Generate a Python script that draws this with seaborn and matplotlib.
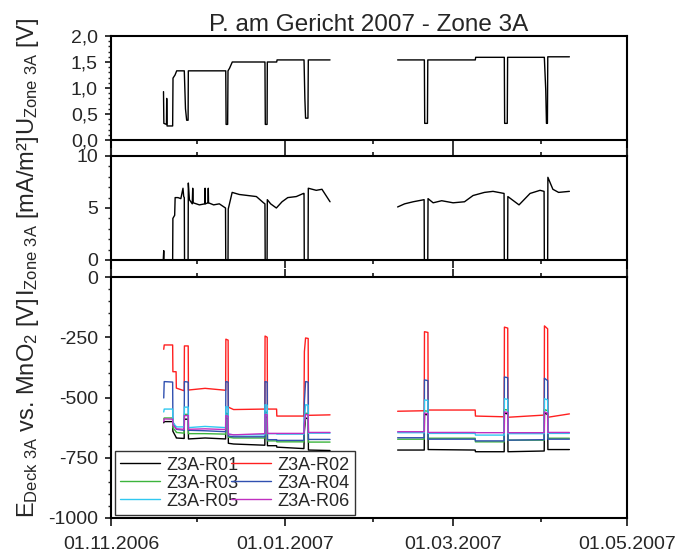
import numpy as np
import pandas as pd
import seaborn as sns
import matplotlib.pyplot as plt
import matplotlib.dates as mdates
from matplotlib.lines import Line2D
from matplotlib.ticker import FixedLocator, FuncFormatter

# --- data ---
u_time = [
    "2006-11-19 10:00", "2006-11-19 13:00", "2006-11-20 11:00", "2006-11-20 13:00",
    "2006-11-20 16:00", "2006-11-22 15:00", "2006-11-22 18:00", "2006-11-23 11:00",
    "2006-11-24 01:00", "2006-11-26 17:00", "2006-11-27 03:00", "2006-11-27 13:00",
    "2006-11-28 01:00", "2006-11-28 03:00", "2006-12-11 06:00", "2006-12-11 09:00",
    "2006-12-11 22:00", "2006-12-12 01:00", "2006-12-12 14:00", "2006-12-13 13:00",
    "2006-12-25 00:00", "2006-12-25 03:00", "2006-12-25 18:00", "2006-12-25 20:00",
    "2006-12-29 03:00", "2006-12-29 06:00", "2007-01-07 17:00", "2007-01-08 00:00",
    "2007-01-08 06:00", "2007-01-09 02:00", "2007-01-09 05:00", "2007-01-16 20:00",
    "2007-02-09 13:00", "2007-02-18 22:00", "2007-02-19 01:00", "2007-02-20 00:00",
    "2007-02-20 03:00", "2007-03-08 19:00", "2007-03-08 22:00", "2007-03-18 23:00",
    "2007-03-19 02:00", "2007-03-20 00:00", "2007-03-20 03:00", "2007-04-02 00:00",
    "2007-04-02 12:00", "2007-04-02 18:00", "2007-04-03 02:00", "2007-04-03 05:00",
    "2007-04-10 19:00",
]
u_value = [
    0.93, 0.32, 0.30, 0.80, 0.27, 0.27, 1.19, 1.25, 1.33, 1.33, 0.60, 0.38,
    0.38, 1.33, 1.33, 0.30, 0.30, 1.33, 1.38, 1.50, 1.50, 0.30, 0.30, 1.50,
    1.50, 1.54, 1.54, 0.80, 0.42, 0.42, 1.54, 1.54,
    1.54, 1.54, 0.32, 0.32, 1.54, 1.54, 1.59, 1.59, 0.32, 0.32, 1.59, 1.59,
    0.96, 0.32, 0.32, 1.60, 1.60,
]

i_time = [
    "2006-11-19 08:00", "2006-11-19 12:00", "2006-11-19 14:00", "2006-11-22 15:00",
    "2006-11-22 17:00", "2006-11-23 08:00", "2006-11-23 12:00", "2006-11-24 12:00",
    "2006-11-25 12:00", "2006-11-26 06:00", "2006-11-26 12:00", "2006-11-26 17:00",
    "2006-11-26 19:00", "2006-11-28 01:00", "2006-11-28 03:00", "2006-11-28 12:00",
    "2006-11-29 12:00", "2006-11-29 16:00", "2006-11-29 20:00", "2006-12-02 00:00",
    "2006-12-03 22:00", "2006-12-04 00:00", "2006-12-04 02:00", "2006-12-05 01:00",
    "2006-12-05 03:00", "2006-12-05 05:00", "2006-12-07 00:00", "2006-12-09 00:00",
    "2006-12-11 04:00", "2006-12-11 06:00", "2006-12-12 01:00", "2006-12-12 03:00",
    "2006-12-13 12:00", "2006-12-16 00:00", "2006-12-19 00:00", "2006-12-22 00:00",
    "2006-12-24 12:00", "2006-12-25 00:00", "2006-12-25 02:00", "2006-12-25 18:00",
    "2006-12-25 20:00", "2006-12-27 00:00", "2006-12-29 00:00", "2006-12-31 00:00",
    "2007-01-02 00:00", "2007-01-05 00:00", "2007-01-07 12:00", "2007-01-07 17:00",
    "2007-01-07 19:00", "2007-01-09 03:00", "2007-01-09 05:00", "2007-01-12 00:00",
    "2007-01-14 00:00", "2007-01-16 20:00",
    "2007-02-09 13:00", "2007-02-12 00:00", "2007-02-15 00:00", "2007-02-18 20:00",
    "2007-02-18 22:00", "2007-02-20 03:00", "2007-02-20 05:00", "2007-02-22 00:00",
    "2007-02-25 00:00", "2007-03-01 00:00", "2007-03-05 00:00", "2007-03-08 00:00",
    "2007-03-12 00:00", "2007-03-15 00:00", "2007-03-18 21:00", "2007-03-18 23:00",
    "2007-03-20 03:00", "2007-03-20 05:00", "2007-03-24 03:00", "2007-03-28 00:00",
    "2007-03-31 12:00", "2007-04-01 22:00", "2007-04-02 00:00", "2007-04-03 04:00",
    "2007-04-03 06:00", "2007-04-05 00:00", "2007-04-07 00:00", "2007-04-10 19:00",
]
i_value = [
    0.0, 0.9, 0.0, 0.0, 4.0, 4.3, 6.0, 6.0, 5.9, 6.9, 6.1, 6.0,
    0.0, 0.0, 7.4, 5.8, 5.4, 6.9, 5.5, 5.3, 5.4, 6.9, 5.4, 5.5,
    6.9, 5.5, 5.3, 5.4, 5.0, 0.0, 0.0, 4.9, 6.5, 6.3, 6.2, 6.1,
    5.5, 5.4, 0.0, 0.0, 5.8, 5.4, 5.0, 5.6, 6.0, 6.1, 6.4, 6.4,
    0.0, 0.0, 6.9, 6.7, 6.8, 5.6,
    5.1, 5.4, 5.6, 5.8, 0.0, 0.0, 5.9, 5.5, 5.7, 5.5, 5.6, 6.2,
    6.5, 6.6, 6.4, 0.0, 0.0, 6.1, 5.3, 6.4, 6.7, 6.6, 0.0, 0.0,
    7.95, 6.8, 6.5, 6.6,
]

e_time = [
    "2006-11-19 12:00", "2006-11-19 16:00", "2006-11-22 15:00", "2006-11-22 17:00",
    "2006-11-23 20:00", "2006-11-23 22:00", "2006-11-26 16:00", "2006-11-26 18:00",
    "2006-11-28 02:00", "2006-11-28 04:00", "2006-12-04 00:00", "2006-12-11 05:00",
    "2006-12-11 07:00", "2006-12-12 02:00", "2006-12-12 04:00", "2006-12-14 00:00",
    "2006-12-24 23:00", "2006-12-25 01:00", "2006-12-25 19:00", "2006-12-25 21:00",
    "2006-12-29 02:00", "2006-12-29 04:00", "2007-01-07 16:00", "2007-01-07 20:00",
    "2007-01-08 06:00", "2007-01-09 04:00", "2007-01-09 06:00", "2007-01-16 20:00",
    "2007-02-09 13:00", "2007-02-18 21:00", "2007-02-18 23:00", "2007-02-20 04:00",
    "2007-02-20 06:00", "2007-03-08 18:00", "2007-03-08 20:00", "2007-03-18 22:00",
    "2007-03-19 00:00", "2007-03-20 04:00", "2007-03-20 06:00", "2007-04-01 23:00",
    "2007-04-02 01:00", "2007-04-03 04:00", "2007-04-03 06:00", "2007-04-10 19:00",
]
e_r01 = [-605, -600, -600, -640, -665, -668, -670, -590, -590, -672, -668, -672,
         -585, -588, -690, -693, -698, -580, -582, -700, -700, -706, -712, -640,
         -585, -588, -718, -720,
         -718, -718, -570, -572, -716, -718, -725, -725, -565, -568, -725, -722,
         -565, -570, -716, -716]
e_r02 = [-300, -282, -282, -393, -393, -461, -472, -286, -286, -469, -462, -470,
         -258, -262, -540, -550, -548, -245, -250, -548, -548, -577, -577, -310,
         -253, -255, -574, -572,
         -557, -555, -227, -230, -552, -552, -577, -580, -208, -212, -582, -573,
         -203, -215, -582, -568]
e_r03 = [-590, -585, -585, -625, -642, -645, -648, -570, -570, -650, -650, -652,
         -565, -568, -665, -668, -668, -560, -562, -680, -680, -684, -684, -620,
         -565, -567, -685, -685,
         -673, -673, -555, -557, -669, -669, -684, -684, -550, -552, -677, -677,
         -550, -555, -669, -669]
e_r04 = [-502, -434, -436, -600, -630, -632, -636, -434, -436, -636, -638, -642,
         -434, -436, -660, -663, -663, -434, -436, -675, -675, -678, -678, -520,
         -434, -436, -674, -674,
         -667, -667, -427, -430, -673, -673, -680, -680, -415, -418, -677, -675,
         -420, -430, -673, -673]
e_r05 = [-560, -548, -548, -605, -620, -622, -622, -540, -540, -625, -620, -625,
         -538, -540, -652, -655, -655, -530, -532, -650, -650, -652, -652, -600,
         -530, -532, -648, -648,
         -646, -646, -510, -512, -649, -649, -656, -656, -505, -508, -650, -650,
         -505, -510, -649, -649]
e_r06 = [-600, -589, -590, -615, -628, -630, -632, -575, -575, -632, -630, -633,
         -575, -578, -652, -655, -650, -570, -572, -649, -649, -649, -649, -610,
         -570, -572, -645, -645,
         -642, -642, -565, -567, -645, -645, -646, -646, -560, -562, -646, -646,
         -560, -565, -645, -645]

probes = ["Z3A-R01", "Z3A-R02", "Z3A-R03", "Z3A-R04", "Z3A-R05", "Z3A-R06"]
colors = ["black", "#ff2020", "#3cb43c", "#3050b0", "#30c8f0", "#c030c0"]

GAP = pd.Timestamp("2007-02-01")


def frame(times, values):
    df = pd.DataFrame({"time": pd.to_datetime(times), "value": values})
    df["seg"] = (df["time"] > GAP).astype(int)
    return df


u_df = frame(u_time, u_value)
i_df = frame(i_time, i_value)
e_df = pd.concat(
    [frame(e_time, v).assign(probe=p)
     for p, v in zip(probes, [e_r01, e_r02, e_r03, e_r04, e_r05, e_r06])],
    ignore_index=True,
)

# --- style ---
sns.set_style("ticks")
plt.rcParams["font.family"] = ["Liberation Sans", "DejaVu Sans"]
plt.rcParams["mathtext.default"] = "regular"
plt.rcParams["axes.unicode_minus"] = False
plt.rcParams["axes.edgecolor"] = "black"
plt.rcParams["axes.linewidth"] = 1.5

W, H = 682, 556
fig = plt.figure(figsize=(W / 100, H / 100), dpi=100)


def box(top, bottom):
    return [111 / W, 1 - bottom / H, 516 / W, (bottom - top) / H]


ax_u = fig.add_axes(box(36, 156))
ax_i = fig.add_axes(box(156, 277))
ax_e = fig.add_axes(box(277, 518))

sns.lineplot(data=u_df, x="time", y="value", units="seg", estimator=None,
             sort=False, color="black", lw=1.0, ax=ax_u)
sns.lineplot(data=i_df, x="time", y="value", units="seg", estimator=None,
             sort=False, color="black", lw=1.0, ax=ax_i)
sns.lineplot(data=e_df, x="time", y="value", hue="probe", hue_order=probes,
             palette=dict(zip(probes, colors)), units="seg", estimator=None,
             sort=False, lw=1.0, legend=False, ax=ax_e)

ax_u.set_ylim(-16 / 52, 2.0)
ax_i.set_ylim(-17 / 10.4, 10)
ax_e.set_ylim(-1000, 0)

ax_u.yaxis.set_major_locator(FixedLocator([0, 0.5, 1.0, 1.5, 2.0]))
ax_u.yaxis.set_minor_locator(FixedLocator(np.arange(0, 2.01, 0.1)))
ax_u.yaxis.set_major_formatter(FuncFormatter(lambda v, p: f"{v:.1f}".replace(".", ",")))
ax_i.yaxis.set_major_locator(FixedLocator([0, 5, 10]))
ax_i.yaxis.set_minor_locator(FixedLocator(np.arange(0, 11, 1)))
ax_e.yaxis.set_major_locator(FixedLocator([-1000, -750, -500, -250, 0]))
ax_e.yaxis.set_minor_locator(FixedLocator(np.arange(-1000, 1, 50)))

for ax in (ax_u, ax_i, ax_e):
    ax.set_xlim(pd.Timestamp("2006-11-01"), pd.Timestamp("2007-05-01"))
    ax.xaxis.set_major_locator(mdates.MonthLocator(bymonth=[1, 3, 5, 11]))
    ax.xaxis.set_minor_locator(mdates.MonthLocator(bymonth=[2, 4, 12]))
    ax.xaxis.set_major_formatter(mdates.DateFormatter("%d.%m.%Y"))
    ax.set_xlabel("")
    ax.set_ylabel("")
    ax.tick_params(axis="y", which="major", direction="out", length=4.5,
                   width=1.3, labelsize=14, pad=5, right=False)
    ax.tick_params(axis="y", which="minor", direction="out", length=2.2,
                   width=1.0, right=False)
    ax.tick_params(axis="x", which="major", direction="out", length=5.8,
                   width=1.3, labelsize=14, pad=7)
    ax.tick_params(axis="x", which="minor", direction="out", length=3,
                   width=1.3)
    for s in ax.spines.values():
        s.set_linewidth(1.5)

# zero lines of the upper panels carry their own x ticks
ax_u.spines["bottom"].set_position(("data", 0))
ax_i.spines["bottom"].set_position(("data", 0))
ax_u.tick_params(axis="x", which="both", top=False, labelbottom=False)
ax_i.tick_params(axis="x", which="both", top=True, labelbottom=False)
ax_e.tick_params(axis="x", which="both", top=True, labeltop=False)

ax_u.set_title("P. am Gericht 2007 - Zone 3A", fontsize=17.5, pad=3)

fig.text(28 / W, 1 - 77 / H, r"U$_{Zone\ 3A}$ [V]", rotation=90,
         ha="center", va="center", fontsize=17)
fig.text(28 / W, 1 - 216 / H, r"I$_{Zone\ 3A}$ [mA/m²]", rotation=90,
         ha="center", va="center", fontsize=17)
fig.text(28 / W, 1 - 408 / H, r"E$_{Deck\ 3A}$ vs. MnO$_2$ [V]", rotation=90,
         ha="center", va="center", fontsize=17)

# legend filled row by row like the original
handles = {p: Line2D([], [], color=c, lw=1.0) for p, c in zip(probes, colors)}
order = ["Z3A-R01", "Z3A-R03", "Z3A-R05", "Z3A-R02", "Z3A-R04", "Z3A-R06"]
leg = ax_e.legend([handles[p] for p in order], order, ncol=2, loc="lower left",
                  bbox_to_anchor=(4 / 516, 3 / 241), borderaxespad=0,
                  fontsize=13, handlelength=2.2, handletextpad=0.35,
                  columnspacing=-0.4, labelspacing=0.05, borderpad=0.3,
                  frameon=True, fancybox=False)
leg.get_frame().set_edgecolor("black")
leg.get_frame().set_linewidth(1.0)

fig.savefig("out.png", dpi=100)
